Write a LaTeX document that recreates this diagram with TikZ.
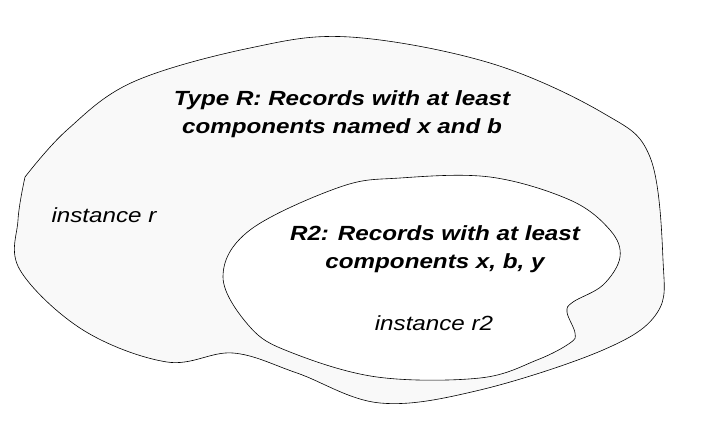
\documentclass[tikz,border=0pt]{standalone}
\usepackage{fontspec}
\setmainfont{Liberation Sans}[FakeStretch=1.18]
\begin{document}
\begin{tikzpicture}[x=1pt,y=-1pt,line width=.6pt,
  headtxt/.style={font=\fontsize{20.5}{28}\selectfont\bfseries\itshape,align=center},
  insttxt/.style={font=\fontsize{20.5}{28}\selectfont\itshape}]
\useasboundingbox (0,0) rectangle (728,421);

\draw[fill=gray!5] plot[smooth,tension=.6] coordinates {(25,177) (67,130) (133,82) (250,48) (350,37) (490,63) (603,113) (650,157) (663,260) (657,313) (603,350) (480,390) (380,403) (297,373) (233,353) (167,362) (83,330) (20,270) (18,220) (25,177)};
\draw[fill=white] plot[smooth cycle,tension=.6] coordinates {(400,178) (490,177) (570,200) (610,230) (620,257) (603,285) (573,302) (567,312) (575,333) (570,343) (537,360) (480,378) (377,377) (290,352) (250,327) (223,277) (250,230) (340,187)};

\node[headtxt] (typer) at (342,114) {Type R: Records with at least\\components named x and b};
\node[insttxt] (instr) at (104,215) {instance r};
\node[headtxt] (rtwo) at (435,249) {R2: Records with at least\\components x, b, y};
\node[insttxt] (instrtwo) at (434,323) {instance r2};
\end{tikzpicture}
\end{document}
